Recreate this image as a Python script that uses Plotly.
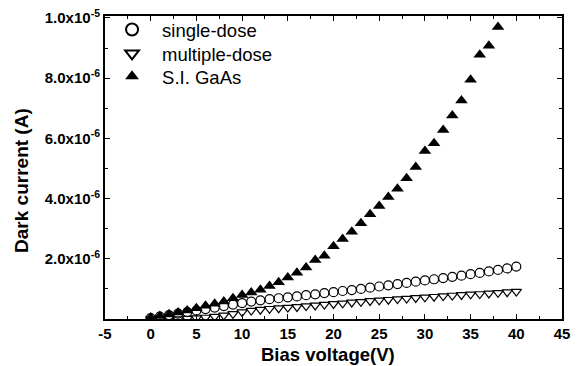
import plotly.graph_objects as go

# Bias voltage (V)
v_si = list(range(0, 39))
si_gaas = [0.05, 0.10, 0.16, 0.22, 0.28, 0.36, 0.44, 0.51, 0.58, 0.69,
           0.80, 0.88, 0.97, 1.10, 1.22, 1.38, 1.54, 1.71, 1.96, 2.10,
           2.42, 2.66, 2.90, 3.18, 3.48, 3.75, 4.05, 4.33, 4.68, 5.05,
           5.58, 5.84, 6.28, 6.76, 7.26, 7.95, 8.78, 9.08, 9.70]  # x1e-6 A

v_dose = list(range(0, 41))
single_dose = [0.03, 0.08, 0.13, 0.18, 0.23, 0.28, 0.33, 0.38, 0.43, 0.48,
               0.53, 0.58, 0.62, 0.66, 0.69, 0.72, 0.75, 0.79, 0.82, 0.86,
               0.89, 0.93, 0.96, 1.00, 1.04, 1.08, 1.12, 1.16, 1.20, 1.24,
               1.28, 1.32, 1.36, 1.40, 1.44, 1.49, 1.53, 1.58, 1.63, 1.68,
               1.74]
multiple_dose = [0.00, 0.00, 0.00, 0.00, 0.01, 0.03, 0.05, 0.08, 0.12, 0.17,
                 0.23, 0.28, 0.31, 0.34, 0.36, 0.38, 0.40, 0.43, 0.45, 0.48,
                 0.50, 0.52, 0.55, 0.57, 0.60, 0.62, 0.64, 0.66, 0.68, 0.70,
                 0.72, 0.74, 0.76, 0.78, 0.80, 0.82, 0.83, 0.85, 0.87, 0.89,
                 0.91]

ytick_vals = [2e-6, 4e-6, 6e-6, 8e-6, 1e-5]
ytick_text = ["2.0x10<sup>-6</sup>", "4.0x10<sup>-6</sup>", "6.0x10<sup>-6</sup>",
              "8.0x10<sup>-6</sup>", "1.0x10<sup>-5</sup>"]
xtick_vals = list(range(-5, 46, 5))

scale = 1e-6
fig = go.Figure()
fig.add_trace(go.Scatter(
    x=v_dose, y=[s * scale for s in single_dose], mode="markers", name="single-dose",
    legend="legend",
    marker=dict(symbol="circle-open", size=9, color="black", line=dict(width=1.2, color="black"))))
fig.add_trace(go.Scatter(
    x=v_dose, y=[s * scale for s in multiple_dose], mode="markers", name="multiple-dose",
    legend="legend2",
    marker=dict(symbol="triangle-down-open", size=9, color="black", line=dict(width=1.2, color="black"))))
fig.add_trace(go.Scatter(
    x=v_si, y=[s * scale for s in si_gaas], mode="markers", name="S.I. GaAs",
    legend="legend3",
    marker=dict(symbol="triangle-up", size=11, color="black")))

FONT = "Liberation Sans, Arial, sans-serif"
tick_font = dict(family=FONT, size=15, color="black")

# plot area in pixels: x 105..570, y 15..319
L, R, T, B = 105, 7, 15, 47
W, H = 577, 366
pw, ph = W - L - R, H - T - B


def legend_at(row_y):
    return dict(x=(102 - L) / pw, y=((H - B) - row_y) / ph, xanchor="left", yanchor="middle",
                bgcolor="rgba(0,0,0,0)", font=dict(family=FONT, size=18.5, color="black"),
                itemwidth=50, itemsizing="constant")


fig.update_layout(
    width=W, height=H,
    margin=dict(l=L, r=R, t=T, b=B),
    paper_bgcolor="white", plot_bgcolor="white",
    font=dict(family=FONT, color="black"),
    showlegend=True,
    legend=legend_at(29),
    legend2=legend_at(53),
    legend3=legend_at(76),
    xaxis=dict(range=[-5, 45], tickvals=xtick_vals,
               ticktext=[f"<b>{v}</b>" for v in xtick_vals],
               ticks="inside", ticklen=5, tickwidth=1.2, tickcolor="black",
               minor=dict(dtick=2.5, tick0=0, ticks="inside", ticklen=3, tickcolor="black"),
               showline=True, linecolor="black", linewidth=2, mirror="ticks",
               showgrid=False, zeroline=False, tickfont=tick_font),
    yaxis=dict(range=[0, 1.0066e-5], tickvals=ytick_vals,
               ticktext=[f"<b>{t}</b>" for t in ytick_text],
               ticks="inside", ticklen=5, tickwidth=1.2, tickcolor="black",
               minor=dict(dtick=1e-6, tick0=0, ticks="inside", ticklen=3, tickcolor="black"),
               showline=True, linecolor="black", linewidth=2, mirror="ticks",
               showgrid=False, zeroline=False, tickfont=tick_font),
    annotations=[
        dict(text="<b>Bias voltage(V)</b>", xref="paper", yref="paper",
             x=(332 - L) / pw, y=-(355 - (H - B)) / ph, xanchor="center", yanchor="middle",
             showarrow=False, font=dict(family=FONT, size=18.5, color="black")),
        dict(text="<b>Dark current (A)</b>", xref="paper", yref="paper",
             x=(20 - L) / pw, y=((H - B) - 180) / ph, xanchor="center", yanchor="middle",
             textangle=-90, showarrow=False, font=dict(family=FONT, size=19, color="black")),
    ],
)
fig.write_html("out.html")
